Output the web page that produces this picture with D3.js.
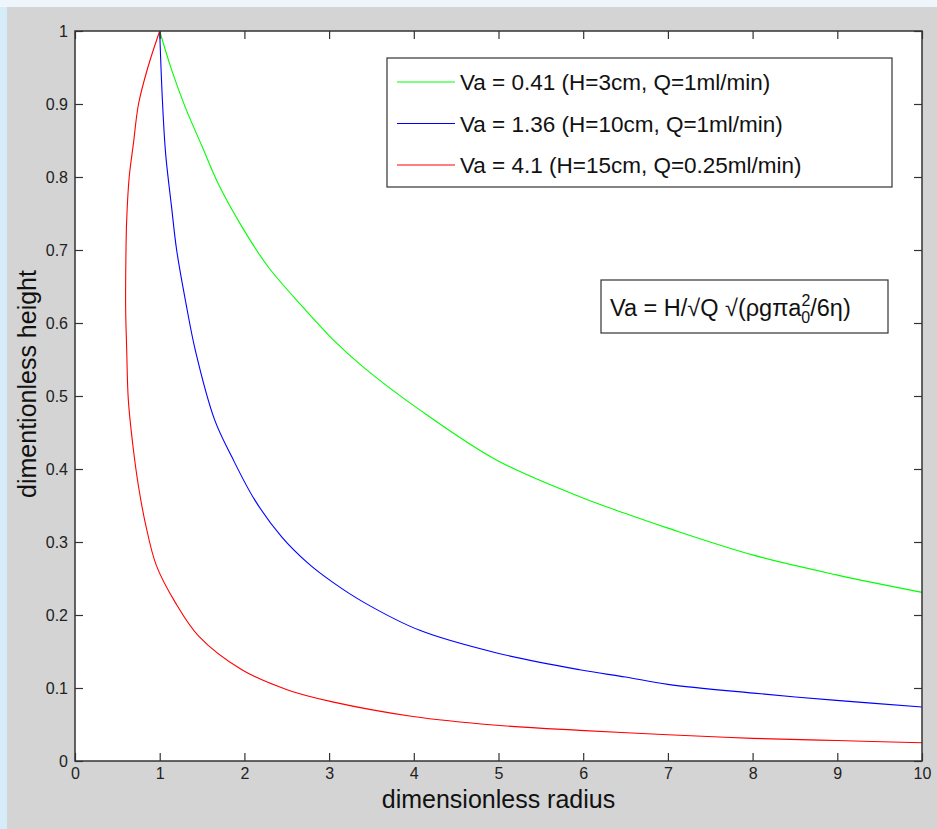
<!DOCTYPE html>
<html>
<head>
<meta charset="utf-8">
<script src="https://cdn.jsdelivr.net/npm/d3@7"></script>
<style>
  html, body { margin: 0; padding: 0; background: #eef6fc; }
  svg { display: block; }
  text { font-family: "Liberation Sans", Arial, sans-serif; }
</style>
</head>
<body>
<svg id="chart"></svg>
<script>
// values: [radius, height]
const greenPts = [[1.0, 1.0], [1.14, 0.947], [1.30, 0.896], [1.50, 0.842], [1.69, 0.791], [1.97, 0.732],
  [2.28, 0.677], [2.72, 0.618], [3.04, 0.578], [3.40, 0.540], [4.07, 0.481], [4.98, 0.412],
  [5.96, 0.362], [6.5, 0.339], [7.0, 0.319], [8.01, 0.282], [8.99, 0.255], [10, 0.231]];
const bluePts = [[1.0, 1.0], [1.03, 0.91], [1.07, 0.832], [1.14, 0.759], [1.20, 0.70], [1.31, 0.627],
  [1.42, 0.563], [1.65, 0.467], [1.85, 0.417], [2.12, 0.358], [2.44, 0.307], [2.75, 0.271],
  [3.04, 0.245], [3.40, 0.218], [4.07, 0.179], [4.98, 0.148], [5.96, 0.125], [6.5, 0.115],
  [7.0, 0.105], [8.01, 0.093], [8.99, 0.083], [10, 0.074]];
const redPts = [[1.0, 1.0], [0.86, 0.95], [0.75, 0.9], [0.69, 0.846], [0.64, 0.8], [0.61, 0.74],
  [0.60, 0.68], [0.598, 0.62], [0.61, 0.565], [0.63, 0.494], [0.69, 0.426], [0.75, 0.376],
  [0.83, 0.326], [0.96, 0.268], [1.18, 0.218], [1.46, 0.171], [1.97, 0.125], [2.52, 0.097],
  [3.04, 0.081], [3.99, 0.061], [4.98, 0.049], [5.96, 0.042], [7.0, 0.036], [8.0, 0.031],
  [9.0, 0.028], [10, 0.025]];
const seriesNames = ["Va = 0.41 (H=3cm, Q=1ml/min)", "Va = 1.36 (H=10cm, Q=1ml/min)", "Va = 4.1 (H=15cm, Q=0.25ml/min)"];
const seriesColors = ["#00ff00", "#0000ff", "#ff0000"];
const xTicks = [0, 1, 2, 3, 4, 5, 6, 7, 8, 9, 10];
const yTicks = [0, 0.1, 0.2, 0.3, 0.4, 0.5, 0.6, 0.7, 0.8, 0.9, 1];
const yTickLabels = ["0", "0.1", "0.2", "0.3", "0.4", "0.5", "0.6", "0.7", "0.8", "0.9", "1"];

const WIDTH = 937, HEIGHT = 829;
const margin = {left: 75, top: 31, right: 15, bottom: 68};

const svg = d3.select("#chart").attr("width", WIDTH).attr("height", HEIGHT);

// figure background (grey panel with the light window edge on top/left)
svg.append("rect").attr("x", 0).attr("y", 0).attr("width", WIDTH).attr("height", HEIGHT).attr("fill", "#eef6fc");
svg.append("rect").attr("x", 0).attr("y", 7).attr("width", 7).attr("height", HEIGHT - 7).attr("fill", "#d6ecf8");
svg.append("rect").attr("x", 7).attr("y", 7).attr("width", WIDTH - 7).attr("height", HEIGHT - 7).attr("fill", "#d4d4d4");

const x = d3.scaleLinear().domain([0, 10]).range([margin.left, WIDTH - margin.right]);
const y = d3.scaleLinear().domain([0, 1]).range([HEIGHT - margin.bottom, margin.top]);

// plot area
svg.append("rect")
  .attr("x", x(0)).attr("y", y(1))
  .attr("width", x(10) - x(0)).attr("height", y(0) - y(1))
  .attr("fill", "#fff");

const line = d3.line().x(d => x(d[0])).y(d => y(d[1])).curve(d3.curveCatmullRom.alpha(0.5));

[greenPts, bluePts, redPts].forEach((pts, i) => {
  svg.append("path")
    .datum(pts)
    .attr("d", line)
    .attr("fill", "none")
    .attr("stroke", seriesColors[i])
    .attr("stroke-width", 1.1)
    .attr("stroke-linejoin", "round");
});

// axes, MATLAB style: inward ticks on all four sides
function styleAxis(g) {
  g.attr("font-size", null).attr("font-family", null);
  g.select(".domain").remove();
  g.selectAll(".tick line").attr("stroke", "#333").attr("stroke-width", 1.2);
  g.selectAll(".tick text").attr("fill", "#222").style("font-size", "16px");
}

svg.append("g")
  .attr("transform", `translate(0,${y(0)})`)
  .call(d3.axisBottom(x).tickValues(xTicks).tickFormat(d3.format("d")).tickSizeInner(-8).tickSizeOuter(0).tickPadding(7))
  .call(styleAxis);

svg.append("g")
  .attr("transform", `translate(0,${y(1)})`)
  .call(d3.axisTop(x).tickValues(xTicks).tickFormat("").tickSizeInner(-8).tickSizeOuter(0))
  .call(styleAxis);

svg.append("g")
  .attr("transform", `translate(${x(0)},0)`)
  .call(d3.axisLeft(y).tickValues(yTicks).tickFormat((d, i) => yTickLabels[i]).tickSizeInner(-8).tickSizeOuter(0).tickPadding(7))
  .call(styleAxis);

svg.append("g")
  .attr("transform", `translate(${x(10)},0)`)
  .call(d3.axisRight(y).tickValues(yTicks).tickFormat("").tickSizeInner(-8).tickSizeOuter(0))
  .call(styleAxis);

// axes box
svg.append("rect")
  .attr("x", x(0)).attr("y", y(1))
  .attr("width", x(10) - x(0)).attr("height", y(0) - y(1))
  .attr("fill", "none")
  .attr("stroke", "#333")
  .attr("stroke-width", 1.5);

// axis labels
svg.append("text")
  .attr("x", (x(0) + x(10)) / 2)
  .attr("y", 808)
  .attr("text-anchor", "middle")
  .style("font-size", "25px")
  .attr("fill", "#111")
  .text("dimensionless radius");

svg.append("text")
  .attr("transform", "translate(36,384) rotate(-90)")
  .attr("text-anchor", "middle")
  .style("font-size", "25px")
  .attr("fill", "#111")
  .text("dimentionless height");

// legend
const legend = svg.append("g");
legend.append("rect")
  .attr("x", 387).attr("y", 58).attr("width", 505).attr("height", 129)
  .attr("fill", "#fff").attr("stroke", "#333").attr("stroke-width", 1.2);

seriesNames.forEach((name, i) => {
  const ly = 82 + i * 41.5;
  legend.append("line")
    .attr("x1", 397).attr("x2", 455).attr("y1", ly).attr("y2", ly)
    .attr("stroke", seriesColors[i]).attr("stroke-width", 1.1);
  legend.append("text")
    .attr("x", 460).attr("y", ly + 8)
    .style("font-size", "22.5px")
    .attr("fill", "#111")
    .text(name);
});

// formula box
const fg = svg.append("g");
fg.append("rect")
  .attr("x", 601).attr("y", 280).attr("width", 287).attr("height", 53)
  .attr("fill", "#fff").attr("stroke", "#333").attr("stroke-width", 1.2);

const ft = fg.append("text")
  .attr("x", 610).attr("y", 316)
  .style("font-size", "23.5px")
  .attr("fill", "#111");
ft.append("tspan").text("Va = H/\u221AQ \u221A(\u03C1g\u03C0a");
ft.append("tspan").attr("dy", -10).style("font-size", "16px").text("2");
ft.append("tspan").attr("dx", -9).attr("dy", 17).style("font-size", "16px").text("0");
ft.append("tspan").attr("dy", -7).text("/6\u03B7)");
</script>
</body>
</html>
